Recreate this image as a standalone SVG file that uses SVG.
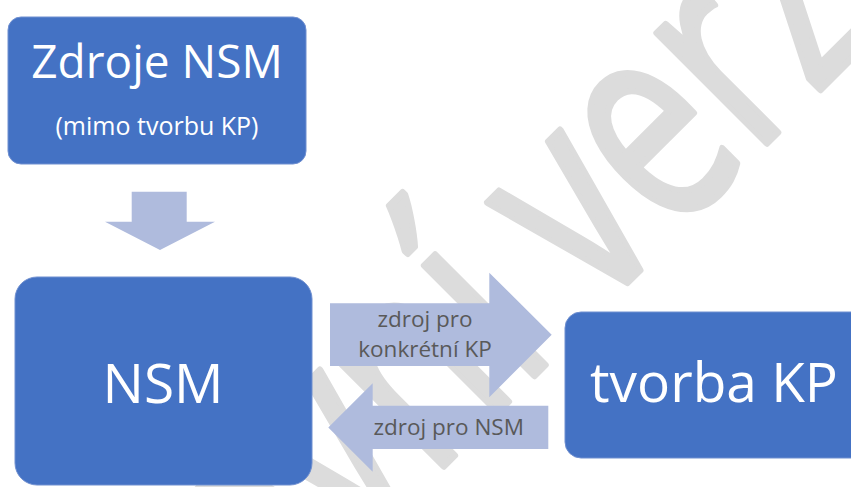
<svg xmlns="http://www.w3.org/2000/svg" width="851" height="487" viewBox="0 0 851 487">
<style>
.box{fill:#4472C4;stroke:#6f8fd0;stroke-width:1}
.big{font-family:'Open Sans','Liberation Sans',sans-serif;fill:#ffffff}
.lbl{font-family:'Open Sans','Liberation Sans',sans-serif;fill:#595959;font-size:22.5px;text-anchor:middle}
.arrow{fill:#AFBBDD}
.wm{font-family:'Open Sans','Liberation Sans',sans-serif;fill:#DCDCDC;stroke:#DCDCDC;stroke-width:5;stroke-linejoin:round;font-size:209px}
</style>
<rect width="851" height="487" fill="#ffffff"/>
<g id="watermark" transform="translate(632 278) rotate(-45) scale(1 1.39)">
<text class="wm"><tspan x="-104" y="0" text-anchor="end">Pracovní</tspan><tspan x="-104" y="0"> verze</tspan></text>
</g>
<g id="connectors">
<polygon class="arrow" points="131.7,191.7 186.7,191.7 186.7,221.7 215,221.7 160,250 105,221.7 131.7,221.7"/>
<g id="arrow-to-kp">
<polygon class="arrow" points="330,303.3 489.3,303.3 489.3,272.7 551.7,334.7 489.3,397.3 489.3,366 330,366"/>
<text class="lbl" x="425" y="326.7">zdroj pro</text>
<text class="lbl" x="425" y="356.7">konkrétní KP</text>
</g>
<g id="arrow-to-nsm">
<polygon class="arrow" points="548.3,405.7 372.7,405.7 372.7,383.3 328.3,427.5 372.7,471.7 372.7,449 548.3,449"/>
<text class="lbl" x="448.7" y="435">zdroj pro NSM</text>
</g>
</g>
<g id="zdroje">
<rect class="box" x="8" y="17" width="298" height="147" rx="13"/>
<text class="big" x="157" y="78" font-size="46" text-anchor="middle">Zdroje NSM</text>
<text class="big" x="157" y="135" font-size="25" text-anchor="middle">(mimo tvorbu KP)</text>
</g>
<g id="nsm">
<rect class="box" x="15" y="277" width="297" height="208" rx="22"/>
<text class="big" x="163" y="403" font-size="55" text-anchor="middle">NSM</text>
</g>
<g id="tvorba">
<rect class="box" x="565" y="312" width="310" height="146" rx="16"/>
<text class="big" x="590" y="402" font-size="55">tvorba KP</text>
</g>
</svg>
